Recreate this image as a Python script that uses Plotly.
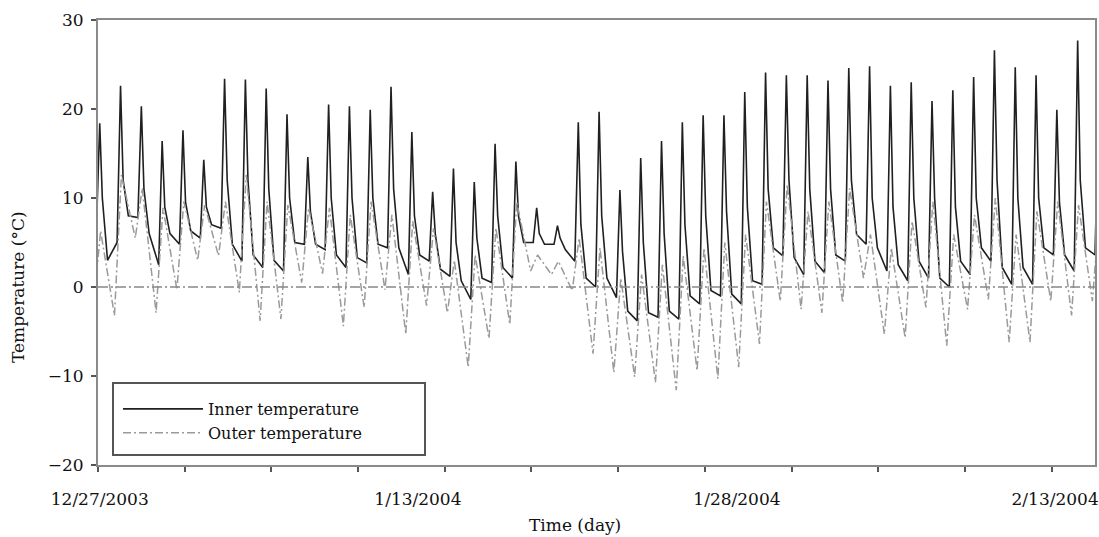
import plotly.graph_objects as go

# ---- data (one value per day, day 0 = 12/27/2003) ----
# inner temperature: pre-dawn low, midday peak, value ~3 h after peak, evening value
inner_min = [6.0, 5.0, 7.8, 2.5, 4.8, 5.5, 6.6, 2.9, 2.2, 1.8,
             4.8, 4.2, 2.2, 2.7, 4.4, 1.4, 2.9, 1.2, -1.4, 0.5,
             1.0, 5.0, 4.8, 2.9, 0.0, -1.2, -3.8, -3.4, -3.6, -1.9,
             -1.0, -1.9, 0.3, 3.5, 1.4, 1.6, 2.9, 4.8, 1.8, 0.7,
             1.0, 0.0, 1.4, 2.9, 0.3, 0.3, 3.6, 1.8, 3.6]
inner_peak = [18.4, 22.6, 20.3, 16.4, 17.6, 14.3, 23.4, 23.3, 22.3, 19.4,
              14.6, 20.5, 20.3, 19.9, 22.5, 17.4, 10.7, 13.3, 11.8, 16.1,
              14.1, 8.9, 6.9, 18.5, 19.7, 10.9, 14.5, 16.4, 18.5, 19.3,
              19.3, 21.9, 24.1, 23.8, 23.8, 23.2, 24.6, 24.8, 22.6, 23.0,
              20.9, 22.1, 23.6, 26.6, 24.7, 23.8, 19.9, 27.7, 19.0]
inner_after = [10, 12, 11, 9, 9.5, 9, 12, 12, 11, 10,
               8.5, 10, 10, 10, 11, 8, 6, 5, 5.5, 8,
               8, 6, 5.5, 7, 8, 4, 5, 6, 7, 8,
               8.5, 9, 11, 12, 11, 11, 12, 10, 9, 10,
               10, 9, 10, 12, 10, 10, 9.5, 12, 10]
inner_eve = [3.0, 8.0, 6.0, 6.0, 6.3, 7.0, 4.8, 3.6, 3.0, 5.0,
             4.8, 3.6, 3.3, 4.8, 4.4, 3.6, 2.0, 0.7, 1.0, 2.2,
             5.0, 4.8, 4.2, 1.0, 1.0, -2.7, -2.9, -2.7, -1.0, -0.4,
             -0.8, 0.7, 4.4, 3.3, 2.9, 3.6, 5.9, 4.4, 2.5, 2.9,
             1.0, 2.9, 4.4, 2.2, 2.2, 4.4, 3.6, 4.4, 4.0]
# outer temperature: morning low, midday high
outer_min = [-2.0, -3.2, 5.5, -2.9, -0.3, 3.0, 3.5, -0.6, -3.8, -3.6,
             0.5, 1.5, -4.4, -2.3, -0.3, -5.3, -2.1, -2.9, -9.0, -5.8,
             -4.2, 1.8, 1.4, -0.4, -7.5, -9.6, -10.1, -10.7, -11.6, -9.4,
             -10.3, -9.0, -6.4, -1.6, -2.5, -2.9, -1.8, 1.0, -5.3, -5.7,
             -2.3, -6.6, -2.5, -1.4, -6.2, -6.2, -1.6, -3.2, -1.6]
outer_max = [6.3, 12.6, 11.1, 8.9, 9.6, 9.2, 9.6, 12.6, 9.6, 9.2,
             8.9, 8.9, 8.1, 9.6, 8.1, 7.4, 6.6, 3.0, 3.6, 6.6,
             9.6, 3.6, 2.9, 5.5, 4.4, 1.0, 1.4, 2.5, 3.5, 4.4,
             5.0, 5.9, 9.6, 11.5, 8.5, 9.6, 11.1, 5.9, 4.4, 7.4,
             9.6, 5.9, 8.1, 10.0, 5.9, 8.5, 9.6, 9.2, 8.5]

date_labels = ["12/27/2003", "1/13/2004", "1/28/2004", "2/13/2004"]
label_hours = [2, 369, 737, 1104]   # hour index (from start of record) of each label

# ---- build hourly time axis (hours since the record start) ----
inner_x, inner_y, outer_x, outer_y = [], [], [], []
for d in range(len(inner_peak)):
    noon = 24 * d + 2
    inner_x += [noon - 4, noon, noon + 3, noon + 9]
    inner_y += [inner_min[d], inner_peak[d], inner_after[d], inner_eve[d]]
    outer_x += [noon - 7, noon + 1]
    outer_y += [outer_min[d], outer_max[d]]

fig = go.Figure()
fig.add_trace(go.Scatter(x=inner_x, y=inner_y, mode="lines", name="Inner temperature",
                         line=dict(color="#202020", width=1.6)))
fig.add_trace(go.Scatter(x=outer_x, y=outer_y, mode="lines", name="Outer temperature",
                         line=dict(color="#9a9a9a", width=1.5, dash="8px,3px,2px,3px")))
fig.add_hline(y=0, line=dict(color="#888888", width=1.5, dash="10px,3px,2px,3px"))

W, H = 1099, 537
ML, MR, MT, MB = 98, 4, 20, 72
pw, ph = W - ML - MR, H - MT - MB
# legend frame (paper coordinates)
fig.add_shape(type="rect", xref="paper", yref="paper",
              x0=(113 - ML) / pw, x1=(425 - ML) / pw,
              y0=(H - MB - 455) / ph, y1=(H - MB - 383) / ph,
              line=dict(color="#555555", width=2), fillcolor="white", layer="above")

font_family = "DejaVu Serif"
# axis titles (placed as in the reference)
fig.add_annotation(text="Time (day)", xref="paper", yref="paper",
                   x=(575 - ML) / pw, y=-(525 - (H - MB)) / ph,
                   xanchor="center", yanchor="middle", showarrow=False,
                   font=dict(family=font_family, size=17, color="#111111"))
fig.add_annotation(text="Temperature (°C)", xref="paper", yref="paper",
                   x=(18 - ML) / pw, y=((H - MB) - 287) / ph, textangle=-90,
                   xanchor="center", yanchor="middle", showarrow=False,
                   font=dict(family=font_family, size=17, color="#111111"))

fig.update_layout(
    width=W, height=H,
    margin=dict(l=ML, r=MR, t=MT, b=MB),
    paper_bgcolor="white", plot_bgcolor="white",
    font=dict(family=font_family, size=17, color="#111111"),
    showlegend=True,
    legend=dict(x=(118 - ML) / pw, y=(H - MB - 392) / ph, xanchor="left", yanchor="top",
                bgcolor="rgba(0,0,0,0)", borderwidth=0,
                font=dict(family=font_family, size=16, color="#111111"),
                itemwidth=80, tracegroupgap=0),
)
fig.update_xaxes(
    range=[0, 1150], showgrid=False, zeroline=False, automargin=False,
    showline=True, linecolor="#8a8a8a", linewidth=2, mirror=True,
    tickmode="array", tickvals=label_hours, ticktext=date_labels, ticks="",
    ticklabelstandoff=18,
    minor=dict(ticks="outside", tick0=0, dtick=100, ticklen=5, tickcolor="#555555",
               tickwidth=1.5, showgrid=False),
)
fig.update_yaxes(
    range=[-20, 30], dtick=10, showgrid=False, zeroline=False, automargin=False,
    showline=True, linecolor="#8a8a8a", linewidth=2, mirror=True,
    ticks="outside", ticklen=5, tickcolor="#555555", tickwidth=1.5,
    ticklabelstandoff=4,
)
fig.write_html("out.html", config={"displayModeBar": False},
               post_script="document.body.style.margin='0px';document.body.style.overflow='hidden';")
